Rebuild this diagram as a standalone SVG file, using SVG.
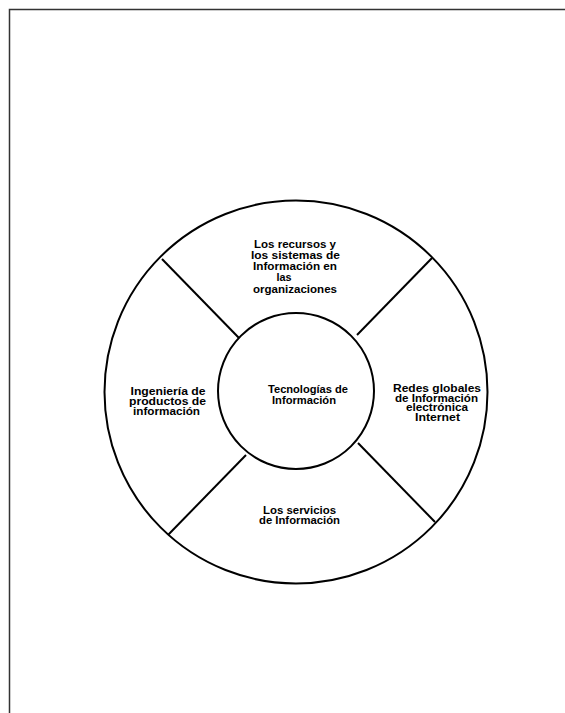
<svg xmlns="http://www.w3.org/2000/svg" width="565" height="713" viewBox="0 0 565 713">
<style>
.t{font-family:"Liberation Sans",Arial,sans-serif;font-weight:bold;font-size:10px;fill:#000;text-anchor:middle}
.c{fill:none;stroke:#000;stroke-width:2}
.l{stroke:#000;stroke-width:2}
</style>
<rect width="565" height="713" fill="#fff"/>
<path d="M9.5,713 V9.5 H565" fill="none" stroke="#333" stroke-width="1.5"/>
<g id="outer-ring"><circle class="c" cx="296" cy="392" r="191.5"/></g>
<g id="connectors">
<line class="l" x1="162" y1="259" x2="239" y2="338"/>
<line class="l" x1="432" y1="258" x2="357" y2="335"/>
<line class="l" x1="358" y1="443" x2="435" y2="522"/>
<line class="l" x1="246" y1="455" x2="168" y2="535"/>
</g>
<g id="center"><circle class="c" cx="296" cy="391" r="78"/>
<text class="t" x="308" y="393" textLength="80" lengthAdjust="spacingAndGlyphs">Tecnologías de</text>
<text class="t" x="304" y="403.5" textLength="64" lengthAdjust="spacingAndGlyphs">Información</text></g>
<g id="top">
<text class="t" x="295" y="248" textLength="82" lengthAdjust="spacingAndGlyphs">Los recursos y</text>
<text class="t" x="295.5" y="259" textLength="89" lengthAdjust="spacingAndGlyphs">los sistemas  de</text>
<text class="t" x="295" y="270" textLength="84" lengthAdjust="spacingAndGlyphs">Información en</text>
<text class="t" x="284" y="281" textLength="15" lengthAdjust="spacingAndGlyphs">las</text>
<text class="t" x="295" y="292.5" textLength="84" lengthAdjust="spacingAndGlyphs">organizaciones</text></g>
<g id="left">
<text class="t" x="168" y="394.5" textLength="75" lengthAdjust="spacingAndGlyphs">Ingeniería de</text>
<text class="t" x="167.5" y="404.5" textLength="77" lengthAdjust="spacingAndGlyphs">productos de</text>
<text class="t" x="166.5" y="414.5" textLength="67" lengthAdjust="spacingAndGlyphs">información</text></g>
<g id="right">
<text class="t" x="437" y="392" textLength="88" lengthAdjust="spacingAndGlyphs">Redes globales</text>
<text class="t" x="436.5" y="401.5" textLength="83" lengthAdjust="spacingAndGlyphs">de Información</text>
<text class="t" x="437" y="411" textLength="62" lengthAdjust="spacingAndGlyphs">electrónica</text>
<text class="t" x="437.5" y="420.5" textLength="45" lengthAdjust="spacingAndGlyphs">Internet</text></g>
<g id="bottom">
<text class="t" x="299.5" y="514" textLength="73" lengthAdjust="spacingAndGlyphs">Los servicios</text>
<text class="t" x="299.5" y="523.5" textLength="81" lengthAdjust="spacingAndGlyphs">de Información</text></g>
</svg>
